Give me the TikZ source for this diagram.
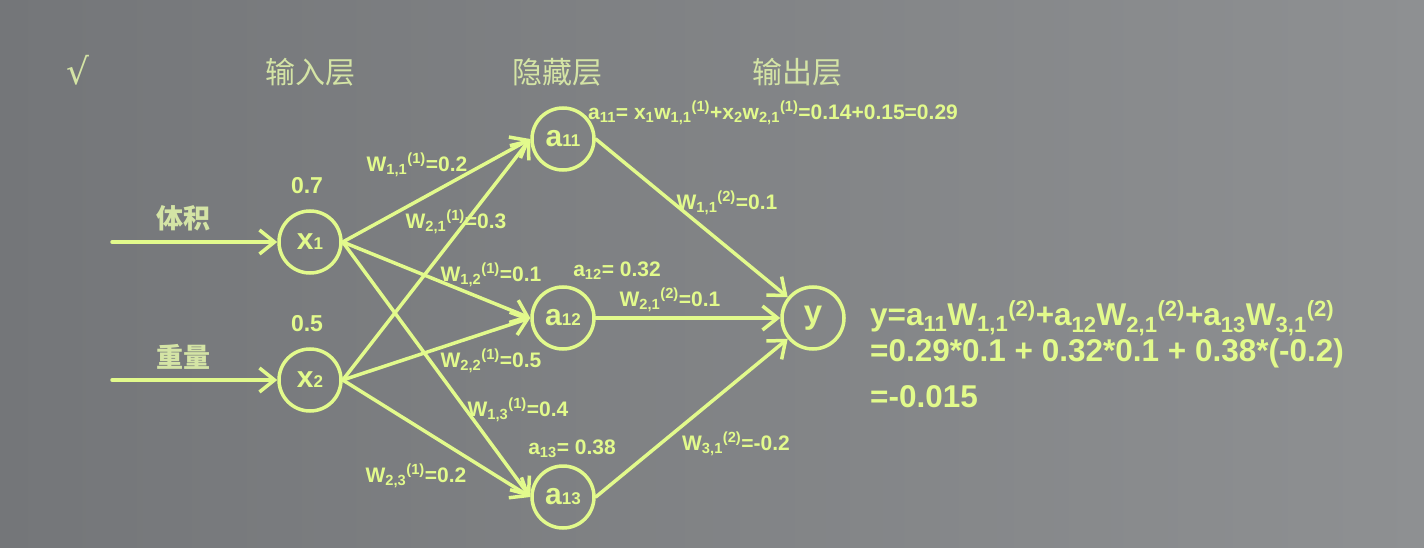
\documentclass[tikz,border=0pt]{standalone}
\usepackage{fontspec}
\setmainfont{Liberation Sans}
\newfontfamily\cjk{Noto Sans CJK SC}
\newfontfamily\symf{DejaVu Sans}
\usetikzlibrary{arrows.meta}
\definecolor{ink}{RGB}{226,250,140}
\definecolor{head}{RGB}{212,228,165}
\definecolor{bgL}{RGB}{116,118,121}
\definecolor{bgR}{RGB}{142,144,146}
\newcommand\lsub[1]{\textsubscript{#1}}
\newcommand\lsup[1]{\textsuperscript{#1}}
\newcommand\nsub[1]{{\fontsize{17}{17}\selectfont #1}}
\begin{document}
\begin{tikzpicture}[x=1pt,y=-1pt,
  neuron/.style={circle,draw=ink,line width=3.5pt,minimum size=62pt,inner sep=0pt,
    text=ink,font=\bfseries\fontsize{30}{30}\selectfont},
  conn/.style={draw=ink,line width=3.5pt,line cap=round,
    -{Straight Barb[length=15pt,width=24pt,line width=3.5pt]}},
  wlab/.style={text=ink,font=\bfseries\fontsize{21}{23}\selectfont,inner sep=0pt},
  heading/.style={text=head,font=\cjk\fontsize{30}{32}\selectfont,inner sep=0pt},
  inlab/.style={text=head,font=\cjk\bfseries\fontsize{27}{29}\selectfont,inner sep=0pt},
  val/.style={text=ink,font=\bfseries\fontsize{23}{25}\selectfont,inner sep=0pt},
  eqn/.style={text=ink,font=\bfseries\fontsize{31.5}{33}\selectfont,inner sep=0pt,anchor=west}]
\shade[left color=bgL,right color=bgR] (0,0) rectangle (1424,548);
\useasboundingbox (0,0) rectangle (1424,548);

% headings
\node[text=head,font=\symf\fontsize{36}{38}\selectfont,inner sep=0pt] (chk) at (78,70) {√};
\node[heading] (h1) at (310,72) {输入层};
\node[heading] (h2) at (557,72) {隐藏层};
\node[heading] (h3) at (797,72) {输出层};

% neurons
\node[neuron] (x1) at (310,242) {x\nsub{1}};
\node[neuron] (x2) at (310,380) {x\nsub{2}};
\node[neuron] (a11) at (563,139) {a\nsub{11}};
\node[neuron] (a12) at (563,318) {a\nsub{12}};
\node[neuron] (a13) at (563,497) {a\nsub{13}};
\node[neuron,font=\bfseries\fontsize{33}{33}\selectfont] (y) at (813,318) {\raisebox{-4pt}{y}};

% inputs
\coordinate (in1) at (112,242);
\coordinate (in2) at (112,380);
\draw[conn] (in1) -- (x1.west);
\draw[conn] (in2) -- (x2.west);
\node[inlab] (l1) at (183,218) {体积};
\node[inlab] (l2) at (183,357) {重量};
\node[val] (v1) at (307,186) {0.7};
\node[val] (v2) at (307,324) {0.5};

% connections
\draw[conn] (x1.east) -- (a11.west);
\draw[conn] (x1.east) -- (a12.west);
\draw[conn] (x1.east) -- (a13.west);
\draw[conn] (x2.east) -- (a11.west);
\draw[conn] (x2.east) -- (a12.west);
\draw[conn] (x2.east) -- (a13.west);
\draw[conn] (a11.east) -- (y);
\draw[conn] (a12.east) -- (y.west);
\draw[conn] (a13.east) -- (y);

% weight labels
\node[wlab] (w11) at (417,165) {W\lsub{1,1}\lsup{(1)}=0.2};
\node[wlab] (w21) at (456,222) {W\lsub{2,1}\lsup{(1)}=0.3};
\node[wlab] (w12) at (491,275) {W\lsub{1,2}\lsup{(1)}=0.1};
\node[wlab] (w22) at (491,361) {W\lsub{2,2}\lsup{(1)}=0.5};
\node[wlab] (w13) at (518,410) {W\lsub{1,3}\lsup{(1)}=0.4};
\node[wlab] (w23) at (416,476) {W\lsub{2,3}\lsup{(1)}=0.2};
\node[wlab] (va12) at (617,271) {a\lsub{12}= 0.32};
\node[wlab] (va13) at (572,449) {a\lsub{13}= 0.38};
\node[wlab,anchor=west] (va11) at (588,113)
  {a\lsub{11}= x\lsub{1}w\lsub{1,1}\lsup{(1)}+x\lsub{2}w\lsub{2,1}\lsup{(1)}=0.14+0.15=0.29};
\node[wlab] (u11) at (727,203) {W\lsub{1,1}\lsup{(2)}=0.1};
\node[wlab] (u21) at (670,300) {W\lsub{2,1}\lsup{(2)}=0.1};
\node[wlab] (u31) at (736,444) {W\lsub{3,1}\lsup{(2)}=-0.2};

% equation
\node[eqn] (e1) at (870,318) {y=a\lsub{11}W\lsub{1,1}\lsup{(2)}+a\lsub{12}W\lsub{2,1}\lsup{(2)}+a\lsub{13}W\lsub{3,1}\lsup{(2)}};
\node[eqn] (e2) at (870,353) {=0.29*0.1 + 0.32*0.1 + 0.38*(-0.2)};
\node[eqn] (e3) at (870,397) {=-0.015};
\end{tikzpicture}
\end{document}
